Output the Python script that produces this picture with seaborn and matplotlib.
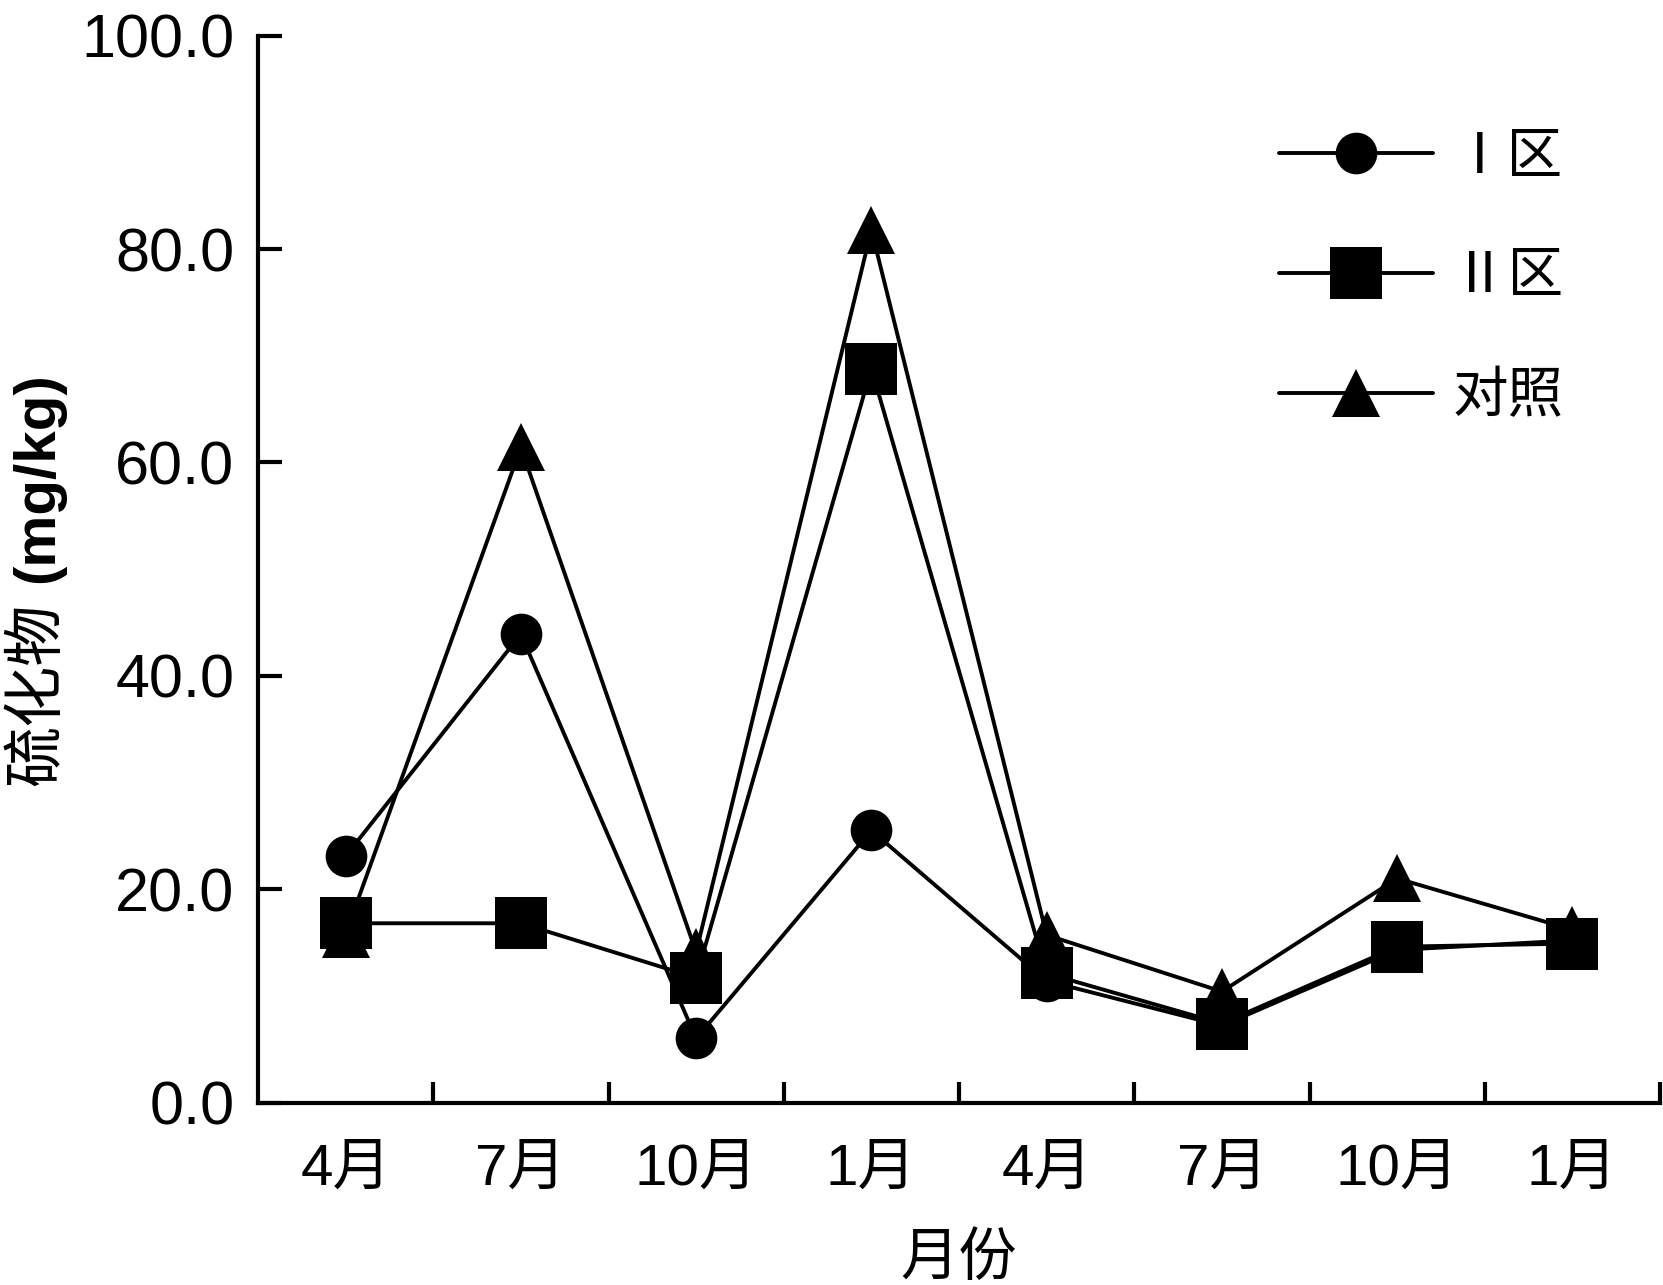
import matplotlib
matplotlib.use("Agg")
import matplotlib.pyplot as plt
import seaborn as sns
import numpy as np
import pandas as pd
from matplotlib.ticker import FixedLocator

# sampling months (two years)
months = ["4月", "7月", "10月", "1月", "4月", "7月", "10月", "1月"]
# sulfide content, mg/kg
zone1 = [23.1, 43.9, 6.0, 25.5, 11.4, 7.2, 14.3, 15.2]
zone2 = [16.8, 16.8, 11.7, 68.8, 12.1, 7.4, 14.6, 14.9]
control = [15.8, 61.4, 14.1, 81.8, 15.7, 10.4, 21.0, 16.2]
yticks = [0, 20, 40, 60, 80, 100]

sns.set_style("ticks")
plt.rcParams["font.family"] = ["Liberation Sans", "Noto Sans CJK SC"]
for k in ["text.color", "axes.labelcolor", "xtick.color", "ytick.color", "axes.edgecolor"]:
    plt.rcParams[k] = "black"

W, H = 1663, 1285
fig = plt.figure(figsize=(W / 100, H / 100), dpi=100)
ax = fig.add_axes([258 / W, 1 - 1102.5 / H, 1402 / W, (1102.5 - 35.7) / H])

pos = np.arange(len(months))
df = pd.DataFrame({"pos": pos, "Ⅰ区": zone1, "Ⅱ区": zone2, "对照": control})

# draw order: squares end up on top like in the original
styles = {"Ⅰ区": ("o", 30), "对照": ("^", 34), "Ⅱ区": ("s", 37)}
for name in ["Ⅰ区", "对照", "Ⅱ区"]:
    m, ms = styles[name]
    sns.lineplot(data=df, x="pos", y=name, ax=ax, color="black", linewidth=2.8,
                 marker=m, markersize=ms, markeredgewidth=0, label=name, legend=False)

ax.set_xlim(-0.5, 7.5)
ax.set_ylim(0, 100)
ax.set_xticks(pos)
ax.set_xticklabels(months)
ax.xaxis.set_minor_locator(FixedLocator(pos + 0.5))
ax.tick_params(axis="x", which="major", length=0, pad=29, labelsize=42)
ax.tick_params(axis="x", which="minor", direction="in", length=15, width=3)
ax.set_yticks(yticks)
ax.set_yticklabels(["%.1f" % v for v in yticks])
ax.tick_params(axis="y", direction="in", length=17, width=3, pad=17, labelsize=44)

sns.despine(ax=ax)
for s in ["left", "bottom"]:
    ax.spines[s].set_linewidth(3)

ax.set_xlabel("月份", fontsize=42, labelpad=26)
ax.set_ylabel("")
fig.text(37 / W, 1 - 603 / H, "硫化物", rotation=90, ha="center", va="top",
         fontsize=44, family=["Noto Sans CJK SC"])
fig.text(38 / W, 1 - 583 / H, "(mg/kg)", rotation=90, ha="center", va="bottom",
         fontsize=42, weight="bold")

handles, labels = ax.get_legend_handles_labels()
order = ["Ⅰ区", "Ⅱ区", "对照"]
ax.legend([handles[labels.index(k)] for k in order], order,
          loc="upper left", bbox_to_anchor=(1279 / W, 1 - 128 / H),
          bbox_transform=fig.transFigure, frameon=False,
          handlelength=2.77, handletextpad=0.35, labelspacing=1.12,
          borderpad=0, borderaxespad=0,
          prop={"family": ["Noto Sans CJK SC"], "size": 40})

fig.savefig("out.png", dpi=100)
